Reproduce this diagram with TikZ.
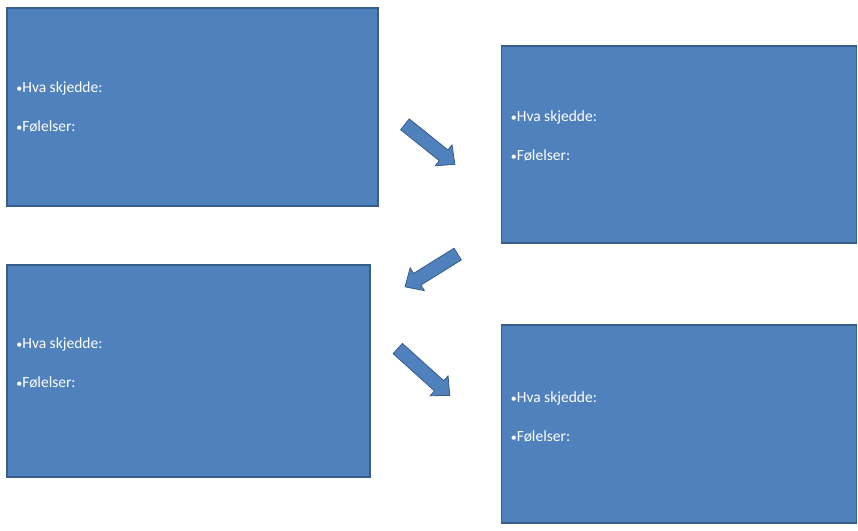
\documentclass[tikz,border=0pt]{standalone}
\usepackage{fontspec}
\setmainfont{Carlito}
\definecolor{boxblue}{HTML}{4F81BD}
\definecolor{boxedge}{HTML}{385D8A}
\usetikzlibrary{arrows.meta,positioning,shapes.arrows}

\begin{document}
\begin{tikzpicture}[x=1pt, y=-1pt,
  box/.style={draw=boxedge, fill=boxblue, line width=1.6pt, inner sep=0pt},
  txt/.style={anchor=west, align=left, text=white, inner sep=0pt, font=\fontsize{15.5}{39}\selectfont},
  blockarrow/.style={single arrow, draw=boxedge, fill=boxblue, line width=0.8pt, inner xsep=0pt, inner ysep=0pt, text height=6.5pt, text depth=6.5pt, single arrow head extend=6.5pt, single arrow tip angle=86}]
  \useasboundingbox (0,0) rectangle (858,530);

  \node[box, minimum width=371pt, minimum height=198pt] (box1) at (192.5,107) {};
  \node[txt] (t1) at ([xshift=10pt]box1.west) {{\fontsize{12}{0}\selectfont•}Hva skjedde:\\{\fontsize{12}{0}\selectfont•}Følelser:};

  \node[box, minimum width=355pt, minimum height=197pt] (box2) at (679,144.5) {};
  \node[txt] (t2) at ([xshift=10pt, yshift=9pt]box2.west) {{\fontsize{12}{0}\selectfont•}Hva skjedde:\\{\fontsize{12}{0}\selectfont•}Følelser:};

  \node[box, minimum width=363pt, minimum height=212pt] (box3) at (188.5,371) {};
  \node[txt] (t3) at ([xshift=10pt, yshift=8pt]box3.west) {{\fontsize{12}{0}\selectfont•}Hva skjedde:\\{\fontsize{12}{0}\selectfont•}Følelser:};

  \node[box, minimum width=355pt, minimum height=198pt] (box4) at (679,424) {};
  \node[txt] (t4) at ([xshift=10pt, yshift=7.5pt]box4.west) {{\fontsize{12}{0}\selectfont•}Hva skjedde:\\{\fontsize{12}{0}\selectfont•}Følelser:};

  % Arrows between the boxes
  \node[blockarrow, minimum height=64pt, rotate=-38.7] (arr1) at (427,142) {};
  \node[blockarrow, minimum height=62pt, rotate=211.9] (arr2) at (434.5,268.5) {};
  \node[blockarrow, minimum height=70pt, rotate=-42] (arr3) at (421,369.5) {};
\end{tikzpicture}
\end{document}
